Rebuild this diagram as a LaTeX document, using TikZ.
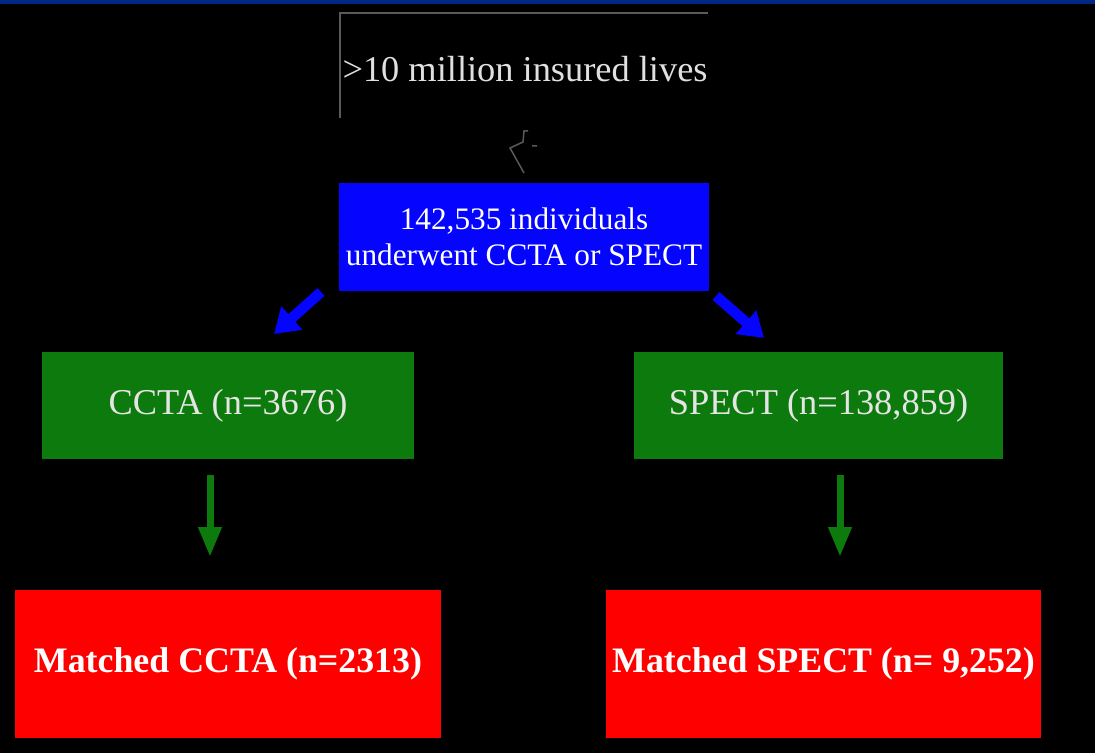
\documentclass[tikz,border=0pt]{standalone}
\usepackage{fontspec}
\setmainfont{Liberation Serif}
\usetikzlibrary{arrows.meta}

\definecolor{bandblue}{RGB}{0,40,130}
\definecolor{boxblue}{RGB}{5,5,255}
\definecolor{boxgreen}{RGB}{12,122,12}
\definecolor{boxred}{RGB}{255,0,0}
\definecolor{framegray}{RGB}{90,90,90}

\tikzset{
  box/.style={inner sep=0pt, align=center, text=white},
  bluebox/.style={box, fill=boxblue, minimum width=7.4cm, minimum height=2.16cm,
    font=\fontsize{17.8}{20.4}\selectfont},
  greenbox/.style={box, fill=boxgreen, minimum height=2.14cm,
    font=\fontsize{20.7}{24}\selectfont, text=white!90!black},
  redbox/.style={box, fill=boxred, minimum height=2.96cm,
    font=\fontsize{20.4}{24}\selectfont\bfseries},
  bluearrow/.style={boxblue, line width=0.21cm, -{Triangle[width=0.6cm,length=0.48cm]}},
  greenarrow/.style={boxgreen, line width=0.14cm, -{Triangle[width=0.44cm,length=0.6cm]}}
}

\begin{document}
\begin{tikzpicture}[x=0.02cm,y=-0.02cm]
  \fill[black] (0,0) rectangle (1095,753);
  \useasboundingbox (0,0) rectangle (1095,753);
  \fill[bandblue] (0,0) rectangle (1095,4); % top band

  % source
  \draw[framegray, line width=0.04cm] (340,118) -- (340,13) -- (708,13);
  \node[anchor=base, inner sep=0pt, text=white!88!black,
    font=\fontsize{20.7}{24}\selectfont] (lives) at (525,82) {>10 million insured lives};
  \draw[framegray, line width=0.03cm] (524,173) -- (510,148) -- (523,142) -- (524,131) -- (528,131)
    (532,146) -- (537,146); % stray mark

  \node[bluebox] (all) at (524,237) {142,535 individuals\\underwent CCTA or SPECT};

  \node[greenbox, minimum width=7.44cm] (ccta) at (228,405.5) {CCTA (n=3676)};
  \node[greenbox, minimum width=7.38cm] (spect) at (818.5,405.5) {SPECT (n=138,859)};

  \node[redbox, minimum width=8.52cm] (mccta) at (228,664) {Matched CCTA (n=2313)};
  \node[redbox, minimum width=8.7cm] (mspect) at (823.5,664) {Matched SPECT (n= 9,252)};

  % arrows
  \coordinate (l1) at (321,292);
  \coordinate (l2) at (274,334);
  \coordinate (r1) at (716,296);
  \coordinate (r2) at (764,338);
  \coordinate (g1) at (210,475);
  \coordinate (g2) at (210,557);
  \coordinate (h1) at (840,475);
  \coordinate (h2) at (840,557);
  \draw[bluearrow] (l1) -- (l2);
  \draw[bluearrow] (r1) -- (r2);
  \draw[greenarrow] (g1) -- (g2);
  \draw[greenarrow] (h1) -- (h2);
\end{tikzpicture}
\end{document}
